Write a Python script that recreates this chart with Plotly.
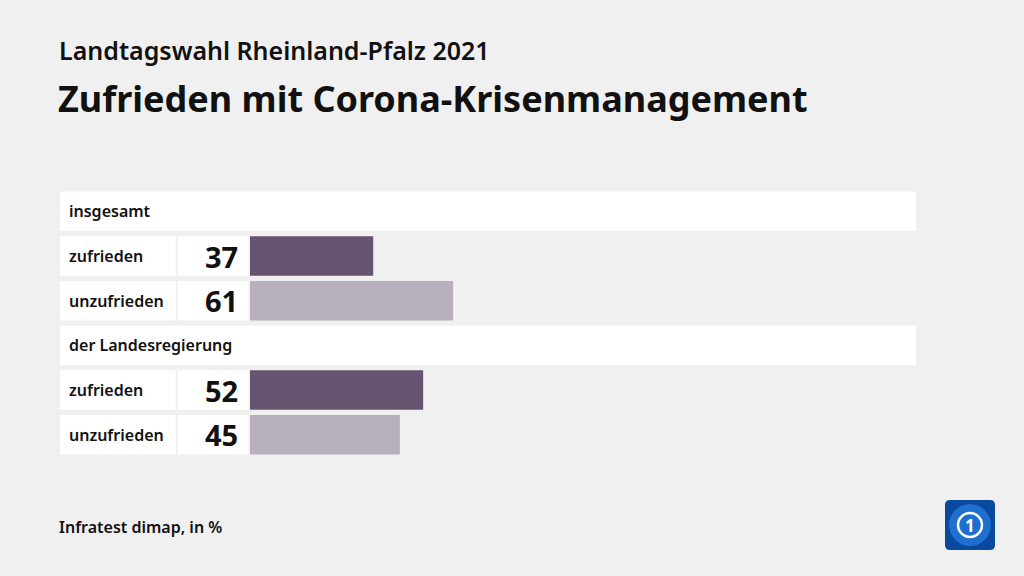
import plotly.graph_objects as go

# ---- data ----
subtitle = "Landtagswahl Rheinland-Pfalz 2021"
title = "Zufrieden mit Corona-Krisenmanagement"
source = "Infratest dimap, in %"
groups = ["insgesamt", "der Landesregierung"]
answers = ["zufrieden", "unzufrieden"]
values_insgesamt = [37, 61]
values_landesregierung = [52, 45]
colors = ["#66536f", "#b8afbc"]

W, H = 1024, 576
ML, MR, MT, MB = 250, 108, 189, 119
PW, PH = W - ML - MR, H - MT - MB
FONT = "Noto Sans"

def px(x):
    return (x - ML) / PW

def py(y):
    return (H - MB - y) / PH

group_values = [values_insgesamt, values_landesregierung]

fig = go.Figure()
shapes = []
annotations = []
row = 0
bw = 0.886
for g, vals in zip(groups, group_values):
    # header row
    shapes.append(dict(type="rect", xref="paper", yref="y", x0=px(60), x1=1.0,
                       y0=row - bw / 2, y1=row + bw / 2, fillcolor="white",
                       line=dict(width=0), layer="below"))
    annotations.append(dict(text=g, xref="paper", yref="y", x=px(67), y=row,
                            xanchor="left", yanchor="middle", showarrow=False,
                            font=dict(family=FONT, size=16, color="#111", weight=600)))
    row += 1
    for a, v, c in zip(answers, vals, colors):
        shapes.append(dict(type="rect", xref="paper", yref="y", x0=px(60), x1=px(175.7),
                           y0=row - bw / 2, y1=row + bw / 2, fillcolor="white",
                           line=dict(width=0), layer="below"))
        shapes.append(dict(type="rect", xref="paper", yref="y", x0=px(177.7), x1=px(248.5),
                           y0=row - bw / 2, y1=row + bw / 2, fillcolor="white",
                           line=dict(width=0), layer="below"))
        annotations.append(dict(text=a, xref="paper", yref="y", x=px(67), y=row,
                                xanchor="left", yanchor="middle", showarrow=False,
                                font=dict(family=FONT, size=16, color="#111", weight=600)))
        annotations.append(dict(text=str(v), xref="paper", yref="y", x=px(240), y=row,
                                xanchor="right", yanchor="middle", showarrow=False,
                                font=dict(family=FONT, size=29, color="#111", weight=700)))
        fig.add_trace(go.Bar(x=[v], y=[row], orientation="h", width=bw,
                             marker=dict(color=c, line=dict(width=0)),
                             hoverinfo="skip", showlegend=False))
        row += 1

# titles
annotations.append(dict(text=subtitle, xref="paper", yref="paper", x=px(57), y=py(69),
                        xanchor="left", yanchor="bottom", showarrow=False,
                        font=dict(family=FONT, size=25, color="#111", weight=600)))
annotations.append(dict(text=title, xref="paper", yref="paper", x=px(56), y=py(125),
                        xanchor="left", yanchor="bottom", showarrow=False,
                        font=dict(family=FONT, size=36, color="#111", weight=700)))
annotations.append(dict(text=source, xref="paper", yref="paper", x=px(57), y=py(540),
                        xanchor="left", yanchor="bottom", showarrow=False,
                        font=dict(family=FONT, size=16, color="#111", weight=600)))

# logo (rounded square)
x0, x1, y0, y1, r = px(945), px(995), py(550), py(500), 5
rx, ry = r / PW, r / PH
path = (f"M {x0+rx},{y1} L {x1-rx},{y1} Q {x1},{y1} {x1},{y1-ry} "
        f"L {x1},{y0+ry} Q {x1},{y0} {x1-rx},{y0} L {x0+rx},{y0} "
        f"Q {x0},{y0} {x0},{y0+ry} L {x0},{y1-ry} Q {x0},{y1} {x0+rx},{y1} Z")
shapes.append(dict(type="path", xref="paper", yref="paper", path=path,
                   fillcolor="#0a4a9e", line=dict(width=0)))
shapes.append(dict(type="circle", xref="paper", yref="paper", x0=px(949), x1=px(991),
                   y0=py(546), y1=py(504), fillcolor="#1f6fcf", line=dict(width=0)))
shapes.append(dict(type="circle", xref="paper", yref="paper", x0=px(958), x1=px(982),
                   y0=py(537), y1=py(513), fillcolor="rgba(0,0,0,0)",
                   line=dict(width=2.5, color="white")))
annotations.append(dict(text="1", xref="paper", yref="paper", x=px(970), y=py(525),
                        xanchor="center", yanchor="middle", showarrow=False,
                        font=dict(family=FONT, size=17, color="white", weight=700)))

fig.update_layout(
    width=W, height=H,
    margin=dict(l=ML, r=MR, t=MT, b=MB, pad=0),
    paper_bgcolor="#f0f0f0", plot_bgcolor="rgba(0,0,0,0)",
    xaxis=dict(range=[0, 200], visible=False, fixedrange=True),
    yaxis=dict(range=[5.5, -0.5], visible=False, fixedrange=True),
    barmode="overlay",
    shapes=shapes, annotations=annotations,
    showlegend=False,
)

fig.write_html("out.html", config={"displayModeBar": False})
